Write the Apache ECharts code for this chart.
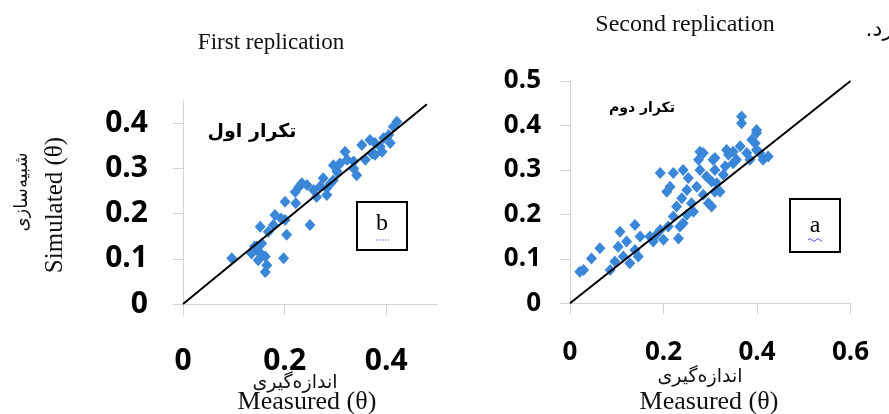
<!DOCTYPE html>
<html>
<head>
<meta charset="utf-8">
<script src="https://cdn.jsdelivr.net/npm/echarts@6/dist/echarts.min.js"></script>
<style>html,body{margin:0;padding:0;background:#fff;}#c{width:889px;height:414px;}</style>
</head>
<body>
<div id="c"></div>
<script>
// ---- First replication (panel b) ----
const firstMeasured  = [0.096,0.135,0.145,0.155,0.148,0.162,0.165,0.162,0.152,0.168,0.181,0.178,0.204,0.201,0.198,0.201,0.250,0.221,0.234,0.228,0.244,0.257,0.270,0.263,0.283,0.283,0.296,0.303,0.309,0.319,0.323,0.296,0.336,0.342,0.352,0.359,0.372,0.378,0.388,0.395,0.405,0.408,0.421,0.414,0.392,0.336,0.222,0.193,0.141,0.155,0.276,0.290,0.378,0.368,0.140,0.150];
const firstSimulated = [0.101,0.112,0.127,0.134,0.097,0.105,0.086,0.071,0.171,0.160,0.197,0.175,0.153,0.186,0.101,0.226,0.175,0.248,0.267,0.259,0.263,0.252,0.260,0.237,0.241,0.256,0.274,0.293,0.311,0.337,0.319,0.307,0.300,0.285,0.352,0.319,0.333,0.356,0.348,0.367,0.374,0.356,0.403,0.392,0.337,0.315,0.223,0.189,0.127,0.108,0.278,0.266,0.330,0.363,0.120,0.115];
// ---- Second replication (panel a) ----
const secondMeasured  = [0.021,0.029,0.046,0.064,0.107,0.103,0.139,0.121,0.086,0.096,0.114,0.128,0.146,0.150,0.139,0.178,0.185,0.193,0.200,0.210,0.232,0.221,0.242,0.250,0.228,0.239,0.264,0.207,0.214,0.193,0.221,0.242,0.253,0.250,0.271,0.285,0.296,0.303,0.278,0.275,0.278,0.292,0.306,0.310,0.314,0.303,0.328,0.332,0.339,0.349,0.349,0.356,0.367,0.367,0.378,0.389,0.399,0.399,0.396,0.399,0.406,0.413,0.424,0.385,0.364,0.335,0.321,0.260,0.235,0.171,0.310,0.310,0.285];
const secondSimulated = [0.071,0.075,0.101,0.124,0.161,0.127,0.176,0.139,0.075,0.094,0.105,0.090,0.105,0.150,0.120,0.139,0.154,0.165,0.143,0.173,0.146,0.195,0.180,0.199,0.218,0.236,0.206,0.251,0.262,0.293,0.293,0.300,0.282,0.255,0.262,0.244,0.225,0.218,0.341,0.323,0.300,0.285,0.323,0.300,0.270,0.274,0.289,0.308,0.334,0.341,0.315,0.323,0.420,0.405,0.338,0.368,0.390,0.383,0.360,0.345,0.338,0.323,0.330,0.323,0.353,0.345,0.251,0.225,0.173,0.150,0.251,0.327,0.338];
// reference lines (as drawn in the picture)
const firstLineX = [0, 0.48], firstLineY = [0, 0.442];
const secondLineX = [0, 0.6], secondLineY = [0, 0.5];
// tick labels
const firstXTicks = [0, 0.2, 0.4];
const firstYTicks = [0, 0.1, 0.2, 0.3, 0.4];
const secondXTicks = [0, 0.2, 0.4, 0.6];
const secondYTicks = [0, 0.1, 0.2, 0.3, 0.4, 0.5];
// texts
const title1 = 'First replication';
const title2 = 'Second replication';
const yNameEn = 'Simulated (θ)';
const yNameFa = 'شبیه‌سازی';
const xNameEn = 'Measured (θ)';
const xNameFa = 'اندازه‌گیری';
const label1 = 'تکرار اول';
const label2 = 'تکرار دوم';

const zip = (a, b) => a.map((v, i) => [v, b[i]]);
const AX = '#d4d4d4';
const BLUE = '#3a86d8';
const tickFont = 'Open Sans';

function xAxis(idx, max, ticks, size, margin) {
  return {
    type: 'value', gridIndex: idx, min: 0, max: max,
    splitLine: {show: false},
    axisLine: {show: true, lineStyle: {color: AX, width: 1}},
    axisTick: {show: true, inside: false, length: 11, lineStyle: {color: AX}, customValues: ticks},
    axisLabel: {customValues: ticks, fontFamily: tickFont, fontWeight: 'bold', fontSize: size, color: '#000', margin: margin}
  };
}
function yAxis(idx, max, ticks, size, margin) {
  return {
    type: 'value', gridIndex: idx, min: 0, max: max,
    splitLine: {show: false},
    axisLine: {show: true, lineStyle: {color: AX, width: 1}},
    axisTick: {show: true, inside: false, length: 10, lineStyle: {color: AX}, customValues: ticks},
    axisLabel: {customValues: ticks, fontFamily: tickFont, fontWeight: 'bold', fontSize: size, color: '#000', margin: margin}
  };
}

const chart = echarts.init(document.getElementById('c'), null, {renderer: 'canvas'});
chart.setOption({
  animation: false,
  backgroundColor: '#fff',
  grid: [
    {left: 183, top: 100.6, width: 254, height: 203.4, outerBoundsMode: 'none', containLabel: false},
    {left: 570, top: 81, width: 280.5, height: 222.3, outerBoundsMode: 'none', containLabel: false}
  ],
  xAxis: [xAxis(0, 0.5, firstXTicks, 30, 42), xAxis(1, 0.6, secondXTicks, 26, 36)],
  yAxis: [yAxis(0, 0.45, firstYTicks, 30, 35), yAxis(1, 0.5, secondYTicks, 26, 29)],
  series: [
    {type: 'scatter', xAxisIndex: 0, yAxisIndex: 0, data: zip(firstMeasured, firstSimulated),
     symbol: 'diamond', symbolSize: [11, 12], itemStyle: {color: BLUE, opacity: 1}, z: 2},
    {type: 'line', xAxisIndex: 0, yAxisIndex: 0, data: zip(firstLineX, firstLineY),
     symbol: 'none', lineStyle: {color: '#000', width: 2}, z: 3},
    {type: 'scatter', xAxisIndex: 1, yAxisIndex: 1, data: zip(secondMeasured, secondSimulated),
     symbol: 'diamond', symbolSize: [11, 12], itemStyle: {color: BLUE, opacity: 1}, z: 2},
    {type: 'line', xAxisIndex: 1, yAxisIndex: 1, data: zip(secondLineX, secondLineY),
     symbol: 'none', lineStyle: {color: '#000', width: 2}, z: 3}
  ],
  graphic: [
    {type: 'text', x: 271, y: 43, style: {text: title1, font: '23px "Liberation Serif"', fill: '#111', align: 'center', verticalAlign: 'middle'}},
    {type: 'text', x: 685, y: 25, style: {text: title2, font: '24px "Liberation Serif"', fill: '#111', align: 'center', verticalAlign: 'middle'}},
    {type: 'text', x: 893, y: 30, style: {text: '.رد', font: '22px "DejaVu Sans"', fill: '#111', align: 'right', verticalAlign: 'middle'}},
    {type: 'text', x: 55, y: 205, rotation: Math.PI / 2, style: {text: yNameEn, font: '25px "Liberation Serif"', fill: '#111', align: 'center', verticalAlign: 'middle'}},
    {type: 'text', x: 22, y: 192, rotation: Math.PI / 2, style: {text: yNameFa, font: '18px "DejaVu Sans"', fill: '#111', align: 'center', verticalAlign: 'middle'}},
    {type: 'text', x: 295, y: 383, style: {text: xNameFa, font: '19px "DejaVu Sans"', fill: '#111', align: 'center', verticalAlign: 'middle'}},
    {type: 'text', x: 307, y: 402, style: {text: xNameEn, font: '26px "Liberation Serif"', fill: '#111', align: 'center', verticalAlign: 'middle'}},
    {type: 'text', x: 700, y: 377, style: {text: xNameFa, font: '19px "DejaVu Sans"', fill: '#111', align: 'center', verticalAlign: 'middle'}},
    {type: 'text', x: 709, y: 402, style: {text: xNameEn, font: '26px "Liberation Serif"', fill: '#111', align: 'center', verticalAlign: 'middle'}},
    {type: 'text', x: 252, y: 132, style: {text: label1, font: 'bold 19px "DejaVu Sans"', fill: '#000', align: 'center', verticalAlign: 'middle'}},
    {type: 'text', x: 642, y: 108, style: {text: label2, font: 'bold 14px "DejaVu Sans"', fill: '#000', align: 'center', verticalAlign: 'middle'}},
    {type: 'rect', shape: {x: 357, y: 202, width: 50, height: 48}, style: {fill: '#fff', stroke: '#000', lineWidth: 2}, z: 10},
    {type: 'text', x: 382, y: 224, style: {text: 'b', font: '24px "Liberation Serif"', fill: '#000', align: 'center', verticalAlign: 'middle'}, z: 11},
    {type: 'line', shape: {x1: 376, y1: 240, x2: 389, y2: 240}, style: {stroke: '#5a5ad0', lineWidth: 1, lineDash: [1.5, 1.5]}, z: 11},
    {type: 'rect', shape: {x: 790, y: 199, width: 50, height: 53}, style: {fill: '#fff', stroke: '#000', lineWidth: 2}, z: 10},
    {type: 'text', x: 815, y: 226, style: {text: 'a', font: '24px "Liberation Serif"', fill: '#000', align: 'center', verticalAlign: 'middle'}, z: 11},
    {type: 'polyline', shape: {points: [[808,240],[810,238.5],[812,240],[814,241.5],[816,240],[818,238.5],[820,240],[822,241.5]]}, style: {stroke: '#4a4ad8', lineWidth: 1, fill: null}, z: 11}
  ]
});
</script>
</body>
</html>
